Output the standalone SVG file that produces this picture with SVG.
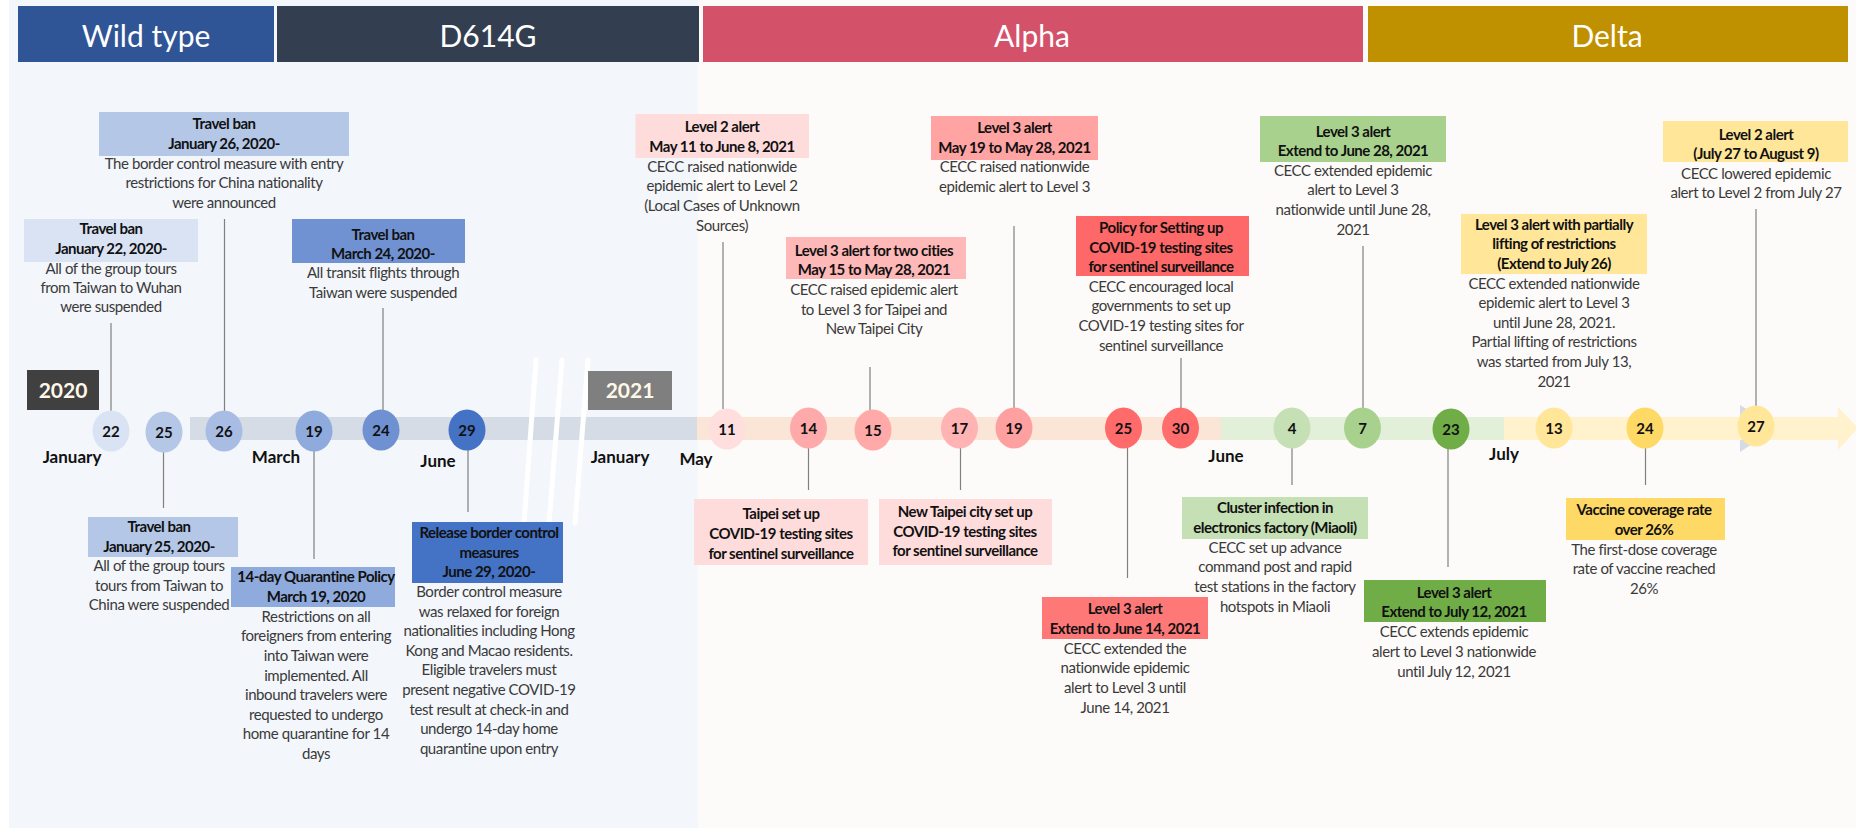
<svg xmlns="http://www.w3.org/2000/svg" width="1856" height="828" viewBox="0 0 1856 828">
<defs>
<style>
.t{font-family:Lato,"Liberation Sans",sans-serif;font-size:15px;letter-spacing:-0.4px;fill:#3a3a3a;text-anchor:middle}
.b{font-weight:bold;fill:#111;letter-spacing:-0.5px}
.hd{font-family:Lato,"Liberation Sans",sans-serif;font-size:30px;fill:#fff;text-anchor:middle}
.mo{font-family:Lato,"Liberation Sans",sans-serif;font-weight:bold;font-size:17px;fill:#111;text-anchor:middle}
.num{font-family:Lato,"Liberation Sans",sans-serif;font-weight:bold;font-size:15px;fill:#111;text-anchor:middle}
.yr{font-family:Lato,"Liberation Sans",sans-serif;font-weight:bold;font-size:21px;fill:#fff8e8;text-anchor:middle}
.ln{stroke:#808080;stroke-width:1.2;fill:none}
</style>
</defs>
<rect x="0" y="0" width="1856" height="828" fill="#ffffff"/>
<rect x="9" y="0" width="689" height="828" fill="#f3f6fa"/>
<rect x="698" y="0" width="1158" height="828" fill="#fdfbf9"/>

<g id="headers">
<rect x="18" y="6" width="256" height="56" fill="#2f5597"/>
<text class="hd" x="146" y="47">Wild type</text>
<rect x="277" y="6" width="422" height="56" fill="#333f50"/>
<text class="hd" x="488" y="47">D614G</text>
<rect x="703" y="6" width="660" height="56" fill="#d4516a"/>
<text class="hd" x="1032" y="47">Alpha</text>
<rect x="1368" y="6" width="480" height="56" fill="#bf9000"/>
<text class="hd" x="1607" y="47">Delta</text>
</g>

<g id="timeline">
<rect x="190" y="417" width="507" height="23" fill="#d6dce5"/>
<rect x="697" y="417" width="524" height="23" fill="#fbe5d6"/>
<rect x="1221" y="417" width="283" height="23" fill="#e2f0d9"/>
<polygon points="1740,405 1740,452 1776,428" fill="#d6dce5"/>
<polygon points="1504,417 1838,417 1838,407 1858,428 1838,450 1838,440 1504,440" fill="#fff2cc"/>
<g stroke="#ffffff" stroke-width="5" stroke-linecap="round">
<line x1="536" y1="360" x2="524" y2="523"/>
<line x1="562" y1="360" x2="549" y2="523"/>
<line x1="588" y1="360" x2="575" y2="523"/>
</g>
<rect x="27" y="370" width="72" height="40" fill="#404040"/>
<text class="yr" x="63" y="398">2020</text>
<rect x="588" y="371" width="84" height="39" fill="#7f7f7f"/>
<text class="yr" x="630" y="398">2021</text>
<text class="mo" x="72" y="463">January</text>
<text class="mo" x="276" y="463">March</text>
<text class="mo" x="438" y="467">June</text>
<text class="mo" x="620" y="463">January</text>
<text class="mo" x="696" y="465">May</text>
<text class="mo" x="1226" y="462">June</text>
<text class="mo" x="1504" y="460">July</text>
</g>

<g id="connectors">
<line class="ln" x1="111" y1="323" x2="111" y2="411"/>
<line class="ln" x1="224.5" y1="219" x2="224.5" y2="411"/>
<line class="ln" x1="383" y1="308" x2="383" y2="410"/>
<line class="ln" x1="723" y1="242" x2="723" y2="409"/>
<line class="ln" x1="870" y1="367" x2="870" y2="410"/>
<line class="ln" x1="1014" y1="226" x2="1014" y2="408"/>
<line class="ln" x1="1181" y1="358" x2="1181" y2="408"/>
<line class="ln" x1="1363" y1="246" x2="1363" y2="408"/>
<line class="ln" x1="1756" y1="209" x2="1756" y2="406"/>
<line class="ln" x1="163.5" y1="452" x2="163.5" y2="508"/>
<line class="ln" x1="314" y1="451" x2="314" y2="559"/>
<line class="ln" x1="468" y1="450" x2="468" y2="512"/>
<line class="ln" x1="808.5" y1="448" x2="808.5" y2="490"/>
<line class="ln" x1="960.5" y1="448" x2="960.5" y2="490"/>
<line class="ln" x1="1127.5" y1="448" x2="1127.5" y2="578"/>
<line class="ln" x1="1292" y1="448" x2="1292" y2="485"/>
<line class="ln" x1="1448" y1="449" x2="1448" y2="567"/>
<line class="ln" x1="1645.5" y1="448" x2="1645.5" y2="485"/>
</g>

<g id="dates">
<g id="d-jan22"><ellipse cx="111" cy="431" rx="18.5" ry="20.5" fill="#dae3f3"/><text class="num" x="111" y="436.5">22</text></g>
<g id="d-jan25"><ellipse cx="164" cy="432" rx="18.5" ry="20.5" fill="#b4c7e7"/><text class="num" x="164" y="437.5">25</text></g>
<g id="d-jan26"><ellipse cx="224" cy="431" rx="18.5" ry="20.5" fill="#a9bde4"/><text class="num" x="224" y="436.5">26</text></g>
<g id="d-mar19"><ellipse cx="314" cy="431" rx="18.5" ry="20.5" fill="#8faadc"/><text class="num" x="314" y="436.5">19</text></g>
<g id="d-mar24"><ellipse cx="381" cy="430" rx="18.5" ry="20.5" fill="#6f91d1"/><text class="num" x="381" y="435.5">24</text></g>
<g id="d-jun29"><ellipse cx="467" cy="430" rx="18.5" ry="20.5" fill="#4472c4"/><text class="num" x="467" y="435.5">29</text></g>
<g id="d-may11"><ellipse cx="727" cy="429" rx="18.5" ry="20.5" fill="#ffdede"/><text class="num" x="727" y="434.5">11</text></g>
<g id="d-may14"><ellipse cx="808.5" cy="428" rx="18.5" ry="20.5" fill="#ffaaaa"/><text class="num" x="808.5" y="433.5">14</text></g>
<g id="d-may15"><ellipse cx="873" cy="430" rx="18.5" ry="20.5" fill="#ffa9a9"/><text class="num" x="873" y="435.5">15</text></g>
<g id="d-may17"><ellipse cx="959.5" cy="428" rx="18.5" ry="20.5" fill="#ffb3b3"/><text class="num" x="959.5" y="433.5">17</text></g>
<g id="d-may19"><ellipse cx="1014" cy="428" rx="18.5" ry="20.5" fill="#ffa0a0"/><text class="num" x="1014" y="433.5">19</text></g>
<g id="d-may25"><ellipse cx="1123.5" cy="428" rx="18.5" ry="20.5" fill="#ff6b6b"/><text class="num" x="1123.5" y="433.5">25</text></g>
<g id="d-may30"><ellipse cx="1180.5" cy="428" rx="18.5" ry="20.5" fill="#ff6d6d"/><text class="num" x="1180.5" y="433.5">30</text></g>
<g id="d-jun4"><ellipse cx="1292" cy="428" rx="18.5" ry="20.5" fill="#c5e0b4"/><text class="num" x="1292" y="433.5">4</text></g>
<g id="d-jun7"><ellipse cx="1362.5" cy="428" rx="18.5" ry="20.5" fill="#a9d18e"/><text class="num" x="1362.5" y="433.5">7</text></g>
<g id="d-jun23"><ellipse cx="1451" cy="429" rx="18.5" ry="20.5" fill="#70ad47"/><text class="num" x="1451" y="434.5">23</text></g>
<g id="d-jul13"><ellipse cx="1554" cy="428" rx="18.5" ry="20.5" fill="#ffe699"/><text class="num" x="1554" y="433.5">13</text></g>
<g id="d-jul24"><ellipse cx="1645" cy="428" rx="18.5" ry="20.5" fill="#ffd966"/><text class="num" x="1645" y="433.5">24</text></g>
<g id="d-jul27"><ellipse cx="1756" cy="426" rx="18.5" ry="20.5" fill="#ffe699"/><text class="num" x="1756" y="431.5">27</text></g>
</g>

<g id="n-jan26">
<rect x="99" y="112" width="250" height="44" fill="#b4c7e7"/>
<text class="t b" x="224" y="129">Travel ban</text>
<text class="t b" x="224" y="149">January 26, 2020-</text>
<text class="t" x="224" y="169">The border control measure with entry</text>
<text class="t" x="224" y="188">restrictions for China nationality</text>
<text class="t" x="224" y="208">were announced</text>
</g>
<g id="n-jan22">
<rect x="24" y="219" width="174" height="43" fill="#dae3f3"/>
<text class="t b" x="111" y="234">Travel ban</text>
<text class="t b" x="111" y="254">January 22, 2020-</text>
<text class="t" x="111" y="274">All of the group tours</text>
<text class="t" x="111" y="293">from Taiwan to Wuhan</text>
<text class="t" x="111" y="312">were suspended</text>
</g>
<g id="n-mar24">
<rect x="292" y="219" width="173" height="44" fill="#7092d2"/>
<text class="t b" x="383" y="240">Travel ban</text>
<text class="t b" x="383" y="259">March 24, 2020-</text>
<text class="t" x="383" y="278">All transit flights through</text>
<text class="t" x="383" y="298">Taiwan were suspended</text>
</g>
<g id="n-jan25">
<rect x="88" y="517" width="150" height="40" fill="#b4c7e7"/>
<text class="t b" x="159" y="532">Travel ban</text>
<text class="t b" x="159" y="552">January 25, 2020-</text>
<text class="t" x="159" y="571">All of the group tours</text>
<text class="t" x="159" y="591">tours from Taiwan to</text>
<text class="t" x="159" y="610">China were suspended</text>
</g>
<g id="n-mar19">
<rect x="231" y="567" width="164" height="40" fill="#8faadc"/>
<text class="t b" x="316" y="582">14-day Quarantine Policy</text>
<text class="t b" x="316" y="602">March 19, 2020</text>
<text class="t" x="316" y="622">Restrictions on all</text>
<text class="t" x="316" y="641">foreigners from entering</text>
<text class="t" x="316" y="661">into Taiwan were</text>
<text class="t" x="316" y="681">implemented. All</text>
<text class="t" x="316" y="700">inbound travelers were</text>
<text class="t" x="316" y="720">requested to undergo</text>
<text class="t" x="316" y="739">home quarantine for 14</text>
<text class="t" x="316" y="759">days</text>
</g>
<g id="n-jun29">
<rect x="412" y="522" width="151" height="61" fill="#4472c4"/>
<text class="t b" x="489" y="538">Release border control</text>
<text class="t b" x="489" y="558">measures</text>
<text class="t b" x="489" y="577">June 29, 2020-</text>
<text class="t" x="489" y="597">Border control measure</text>
<text class="t" x="489" y="617">was relaxed for foreign</text>
<text class="t" x="489" y="636">nationalities including Hong</text>
<text class="t" x="489" y="656">Kong and Macao residents.</text>
<text class="t" x="489" y="675">Eligible travelers must</text>
<text class="t" x="489" y="695">present negative COVID-19</text>
<text class="t" x="489" y="715">test result at check-in and</text>
<text class="t" x="489" y="734">undergo 14-day home</text>
<text class="t" x="489" y="754">quarantine upon entry</text>
</g>

<g id="n-may11">
<rect x="635.5" y="114" width="173.5" height="44" fill="#ffdcdc"/>
<text class="t b" x="722" y="132">Level 2 alert</text>
<text class="t b" x="722" y="152">May 11 to June 8, 2021</text>
<text class="t" x="722" y="172">CECC raised nationwide</text>
<text class="t" x="722" y="191">epidemic alert to Level 2</text>
<text class="t" x="722" y="211">(Local Cases of Unknown</text>
<text class="t" x="722" y="231">Sources)</text>
</g>
<g id="n-may19">
<rect x="931" y="116" width="167" height="44" fill="#ffa3a3"/>
<text class="t b" x="1014.5" y="133">Level 3 alert</text>
<text class="t b" x="1014.5" y="153">May 19 to May 28, 2021</text>
<text class="t" x="1014.5" y="172">CECC raised nationwide</text>
<text class="t" x="1014.5" y="192">epidemic alert to Level 3</text>
</g>
<g id="n-may15">
<rect x="786" y="237" width="180" height="42" fill="#ffb8b8"/>
<text class="t b" x="874" y="256">Level 3 alert for two cities</text>
<text class="t b" x="874" y="275">May 15 to May 28, 2021</text>
<text class="t" x="874" y="295">CECC raised epidemic alert</text>
<text class="t" x="874" y="315">to Level 3 for Taipei and</text>
<text class="t" x="874" y="334">New Taipei City</text>
</g>
<g id="n-may30">
<rect x="1076" y="216" width="173" height="60" fill="#ff6868"/>
<text class="t b" x="1161" y="233">Policy for Setting up</text>
<text class="t b" x="1161" y="253">COVID-19 testing sites</text>
<text class="t b" x="1161" y="272">for sentinel surveillance</text>
<text class="t" x="1161" y="292">CECC encouraged local</text>
<text class="t" x="1161" y="311">governments to set up</text>
<text class="t" x="1161" y="331">COVID-19 testing sites for</text>
<text class="t" x="1161" y="351">sentinel surveillance</text>
</g>
<g id="n-may14">
<rect x="694" y="499" width="174" height="66" fill="#ffdcdc"/>
<text class="t b" x="781" y="519">Taipei set up</text>
<text class="t b" x="781" y="539">COVID-19 testing sites</text>
<text class="t b" x="781" y="559">for sentinel surveillance</text>
</g>
<g id="n-may17">
<rect x="879" y="499" width="173" height="66" fill="#ffdcdc"/>
<text class="t b" x="965" y="517">New Taipei city set up</text>
<text class="t b" x="965" y="537">COVID-19 testing sites</text>
<text class="t b" x="965" y="556">for sentinel surveillance</text>
</g>
<g id="n-may25">
<rect x="1042" y="597" width="166" height="42" fill="#ff7878"/>
<text class="t b" x="1125" y="614">Level 3 alert</text>
<text class="t b" x="1125" y="634">Extend to June 14, 2021</text>
<text class="t" x="1125" y="654">CECC extended the</text>
<text class="t" x="1125" y="673">nationwide epidemic</text>
<text class="t" x="1125" y="693">alert to Level 3 until</text>
<text class="t" x="1125" y="713">June 14, 2021</text>
</g>

<g id="n-jun4">
<rect x="1182" y="497" width="186" height="42" fill="#c5e0b4"/>
<text class="t b" x="1275" y="513">Cluster infection in</text>
<text class="t b" x="1275" y="533">electronics factory (Miaoli)</text>
<text class="t" x="1275" y="553">CECC set up advance</text>
<text class="t" x="1275" y="572">command post and rapid</text>
<text class="t" x="1275" y="592">test stations in the factory</text>
<text class="t" x="1275" y="612">hotspots in Miaoli</text>
</g>
<g id="n-jun7">
<rect x="1260" y="116" width="186" height="46" fill="#a9d18e"/>
<text class="t b" x="1353" y="137">Level 3 alert</text>
<text class="t b" x="1353" y="156">Extend to June 28, 2021</text>
<text class="t" x="1353" y="176">CECC extended epidemic</text>
<text class="t" x="1353" y="195">alert to Level 3</text>
<text class="t" x="1353" y="215">nationwide until June 28,</text>
<text class="t" x="1353" y="235">2021</text>
</g>
<g id="n-jun23">
<rect x="1364" y="580" width="182" height="42" fill="#70ad47"/>
<text class="t b" x="1454" y="598">Level 3 alert</text>
<text class="t b" x="1454" y="617">Extend to July 12, 2021</text>
<text class="t" x="1454" y="637">CECC extends epidemic</text>
<text class="t" x="1454" y="657">alert to Level 3 nationwide</text>
<text class="t" x="1454" y="677">until July 12, 2021</text>
</g>
<g id="n-jul13">
<rect x="1461" y="214" width="186" height="60" fill="#ffe699"/>
<text class="t b" x="1554" y="230">Level 3 alert with partially</text>
<text class="t b" x="1554" y="249">lifting of restrictions</text>
<text class="t b" x="1554" y="269">(Extend to July 26)</text>
<text class="t" x="1554" y="289">CECC extended nationwide</text>
<text class="t" x="1554" y="308">epidemic alert to Level 3</text>
<text class="t" x="1554" y="328">until June 28, 2021.</text>
<text class="t" x="1554" y="347">Partial lifting of restrictions</text>
<text class="t" x="1554" y="367">was started from July 13,</text>
<text class="t" x="1554" y="387">2021</text>
</g>
<g id="n-jul24">
<rect x="1566" y="498" width="159" height="42" fill="#ffd966"/>
<text class="t b" x="1644" y="515">Vaccine coverage rate</text>
<text class="t b" x="1644" y="535">over 26%</text>
<text class="t" x="1644" y="555">The first-dose coverage</text>
<text class="t" x="1644" y="574">rate of vaccine reached</text>
<text class="t" x="1644" y="594">26%</text>
</g>
<g id="n-jul27">
<rect x="1663" y="121" width="185" height="41" fill="#ffe699"/>
<text class="t b" x="1756" y="140">Level 2 alert</text>
<text class="t b" x="1756" y="159">(July 27 to August 9)</text>
<text class="t" x="1756" y="179">CECC lowered epidemic</text>
<text class="t" x="1756" y="198">alert to Level 2 from July 27</text>
</g>
</svg>
